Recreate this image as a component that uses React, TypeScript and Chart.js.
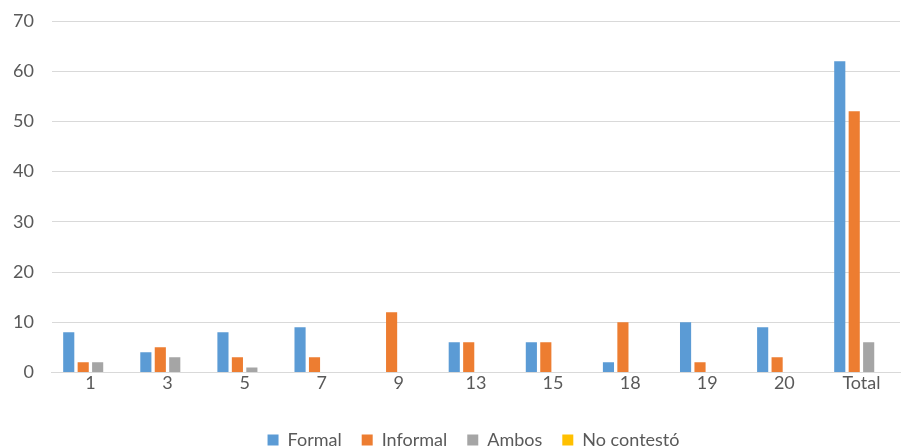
import React, { useEffect, useRef } from "react";
import { Chart, registerables } from "chart.js";

Chart.register(...registerables);

const categories = ["1", "3", "5", "7", "9", "13", "15", "18", "19", "20", "Total"];
const formal = [8, 4, 8, 9, 0, 6, 6, 2, 10, 9, 62];
const informal = [2, 5, 3, 3, 12, 6, 6, 10, 2, 3, 52];
const ambos = [2, 3, 1, 0, 0, 0, 0, 0, 0, 0, 6];
const noContesto = [0, 0, 0, 0, 0, 0, 0, 0, 0, 0, 0];
const yTicks = [0, 10, 20, 30, 40, 50, 60, 70];

const legendShift = {
  id: "legendShift",
  afterLayout(chart: any) {
    const lg = chart.legend;
    if (lg) {
      lg.top += 17;
      lg.bottom += 17;
      lg.left += 26;
      lg.right += 26;
    }
  },
};

export default function App() {
  const ref = useRef<HTMLCanvasElement | null>(null);
  useEffect(() => {
    document.body.style.margin = "0";
    const font = "Lato, 'Open Sans', sans-serif";
    const chart = new Chart(ref.current!, {
      type: "bar",
      data: {
        labels: categories,
        datasets: [
          { label: "Formal", data: formal, backgroundColor: "#5B9BD5" },
          { label: "Informal", data: informal, backgroundColor: "#ED7D31" },
          { label: "Ambos", data: ambos, backgroundColor: "#A5A5A5" },
          { label: "No contestó", data: noContesto, backgroundColor: "#FFC000" },
        ],
      },
      options: {
        animation: false,
        responsive: false,
        maintainAspectRatio: false,
        layout: { padding: { top: 0, right: 2, left: -5, bottom: 6 } },
        datasets: { bar: { categoryPercentage: 0.75, barPercentage: 0.77 } },
        plugins: {
          legend: {
            position: "bottom",
            labels: {
              font: { family: font, size: 18 },
              color: "#595959",
              boxWidth: 11,
              boxHeight: 11,
              padding: 20,
            },
          },
          tooltip: { enabled: false },
        },
        scales: {
          x: {
            grid: { display: false, drawTicks: false },
            border: { color: "#d9d9d9", width: 1 },
            ticks: { font: { family: font, size: 18 }, color: "#595959", padding: 0 },
          },
          y: {
            min: 0,
            max: 70,
            afterBuildTicks: (axis: any) => {
              axis.ticks = yTicks.map((v) => ({ value: v }));
            },
            afterFit: (axis: any) => {
              axis.paddingTop = 21;
              axis.paddingBottom = 11;
            },
            grid: { color: "#d9d9d9", lineWidth: 1, drawTicks: false },
            border: { display: false },
            ticks: { font: { family: font, size: 18 }, color: "#595959", padding: 18 },
          },
        },
      },
      plugins: [legendShift],
    });
    return () => chart.destroy();
  }, []);
  return (
    <div style={{ position: "absolute", left: 0, top: 0, width: 902, height: 448 }}>
      <canvas ref={ref} width={902} height={448} style={{ width: 902, height: 448 }} />
    </div>
  );
}
